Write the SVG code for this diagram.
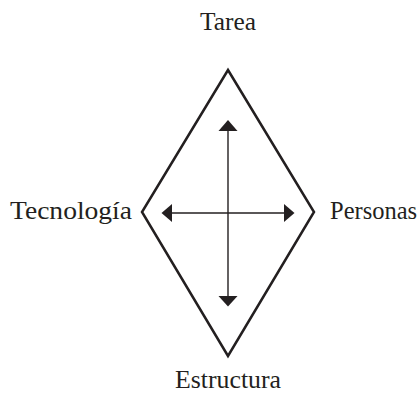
<svg xmlns="http://www.w3.org/2000/svg" width="420" height="393" viewBox="0 0 420 393">
<style>
text{font-family:"Liberation Serif","DejaVu Serif",serif;font-size:26px;fill:#231f20}
.shape{fill:none;stroke:#231f20;stroke-width:2.5;stroke-linejoin:miter}
.conn{stroke:#231f20;stroke-width:1.4;fill:none}
.head{fill:#231f20}
</style>
<rect width="420" height="393" fill="#fff"/>
<g id="diamond"><polygon class="shape" points="228,70 314,212 228,356 142,212"/></g>
<g id="connectors">
<line class="conn" x1="228" y1="130" x2="228" y2="297"/>
<line class="conn" x1="171" y1="213" x2="285" y2="213"/>
<polygon class="head" points="228,120 237.5,131 218.5,131"/>
<polygon class="head" points="228,306.5 237.5,296 218.5,296"/>
<polygon class="head" points="161.5,213 172,204 172,222"/>
<polygon class="head" points="294.5,213 284,204 284,222"/>
</g>
<g id="tarea"><text x="200" y="30" textLength="56" lengthAdjust="spacingAndGlyphs">Tarea</text></g>
<g id="tecnologia"><text x="10" y="219" textLength="122" lengthAdjust="spacingAndGlyphs">Tecnología</text></g>
<g id="personas"><text x="330" y="219" style="font-size:24.5px">Personas</text></g>
<g id="estructura"><text x="175" y="388" textLength="106" lengthAdjust="spacingAndGlyphs">Estructura</text></g>
</svg>
